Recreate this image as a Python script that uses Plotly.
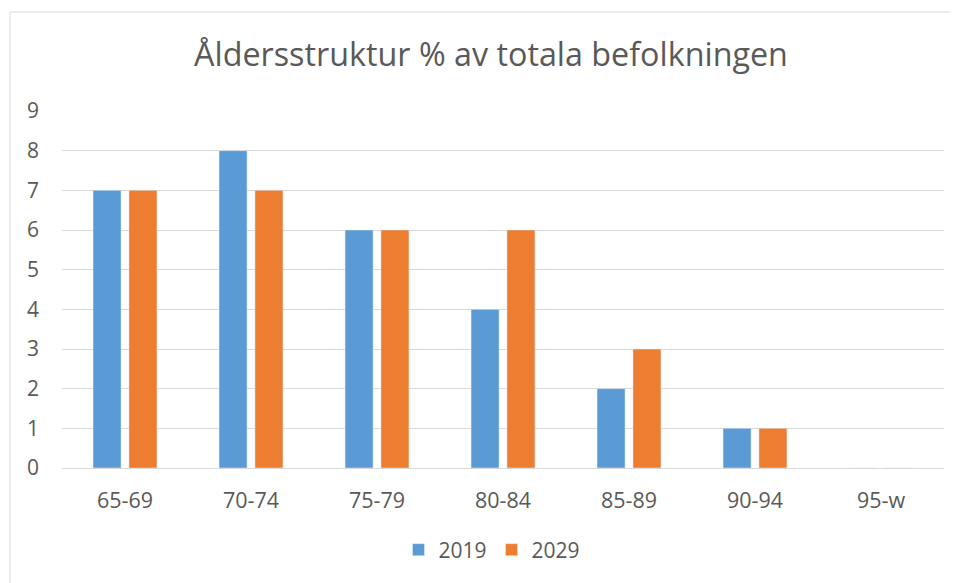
import plotly.graph_objects as go

categories = ["65-69", "70-74", "75-79", "80-84", "85-89", "90-94", "95-w"]
values_2019 = [7, 8, 6, 4, 2, 1, 0]
values_2029 = [7, 7, 6, 6, 3, 1, 0]
y_ticks = [0, 1, 2, 3, 4, 5, 6, 7, 8, 9]

TEXT = "#595959"
GRID = "#D9D9D9"
FONT = "Open Sans"

fig = go.Figure()
fig.add_trace(go.Bar(x=categories, y=values_2019, name="2019", marker_color="#5B9BD5"))
fig.add_trace(go.Bar(x=categories, y=values_2029, name="2029", marker_color="#ED7D31"))

OFF = 8  # page body margin offset
W, H = 950, 575
L, R, T, B = 54, 14, 103, 115
pw = W - L - R
ph = H - T - B

def px_x(x):
    return (x - OFF - L) / pw

def px_y(y):
    return (H - B - (y - OFF)) / ph

fig.update_layout(
    width=W, height=H,
    margin=dict(l=L, r=R, t=T, b=B),
    paper_bgcolor="white", plot_bgcolor="white",
    font=dict(family=FONT, color=TEXT, size=21),
    barmode="group", bargap=0.43, bargroupgap=0.22,
    title=dict(text="Åldersstruktur % av totala befolkningen",
               x=(491 - OFF) / W, xref="container", xanchor="center",
               y=1 - (55 - OFF) / H, yref="container", yanchor="middle",
               font=dict(size=32.3, color=TEXT, family=FONT)),
    xaxis=dict(showgrid=False, showline=False, ticks="", ticklabelstandoff=17,
               tickfont=dict(size=21.5, color=TEXT)),
    yaxis=dict(range=[0, 9], tickvals=y_ticks, showgrid=True, gridcolor=GRID, gridwidth=1,
               zeroline=True, zerolinecolor=GRID, zerolinewidth=1, showline=False,
               ticks="", ticklabelstandoff=22, tickfont=dict(size=21, color=TEXT)),
    showlegend=True,
    legend=dict(orientation="h", xanchor="center", x=px_x(492), yanchor="middle", y=px_y(550),
                font=dict(size=21, color=TEXT), itemwidth=30, bgcolor="rgba(0,0,0,0)"),
    shapes=[dict(type="rect", xref="paper", yref="paper",
                 x0=px_x(10), x1=px_x(1000), y0=px_y(640), y1=px_y(12),
                 line=dict(color=GRID, width=1), fillcolor="rgba(0,0,0,0)", layer="below")],
)

fig.write_html("out.html")
